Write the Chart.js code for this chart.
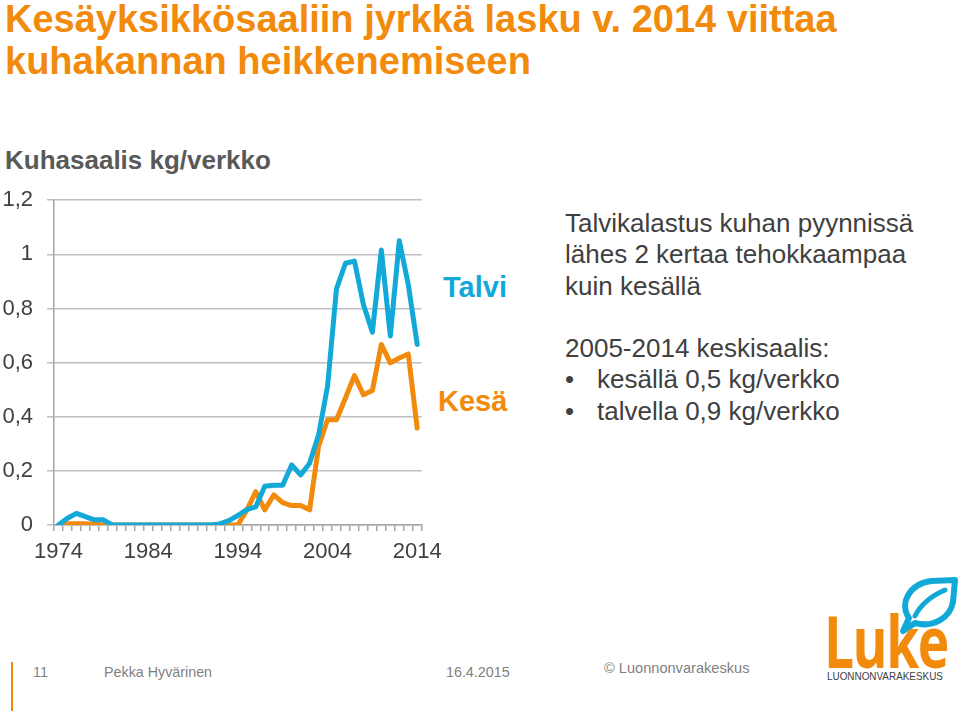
<!DOCTYPE html>
<html>
<head>
<meta charset="utf-8">
<script src="https://cdn.jsdelivr.net/npm/chart.js@4"></script>
<style>
  html, body { margin:0; padding:0; background:#fff; width:960px; height:711px; overflow:hidden; font-family:"Liberation Sans", Arial, sans-serif; }
  .abs { position:absolute; white-space:nowrap; }
  #title { left:5px; top:-2px; color:#F28A0C; font-weight:bold; font-size:38px; line-height:42px; }
  #ytitle { left:5px; top:145px; color:#595959; font-weight:bold; font-size:26px; }
  #talvi { left:443px; top:271px; color:#12A9D8; font-weight:bold; font-size:29px; }
  #kesa { left:438px; top:385px; color:#F28A0C; font-weight:bold; font-size:29px; }
  #note { left:565px; top:208px; color:#404040; font-size:26px; line-height:31.3px; }
  .bul { display:inline-block; width:32px; }
  .foot { top:664px; color:#7f7f7f; font-size:14.3px; }
  #chartwrap { position:absolute; left:0; top:173px; width:450px; height:402px; }
</style>
</head>
<body>
<div id="title" class="abs">Kesäyksikkösaaliin jyrkkä lasku v. 2014 viittaa<br>kuhakannan heikkenemiseen</div>
<div id="ytitle" class="abs">Kuhasaalis kg/verkko</div>
<div id="talvi" class="abs">Talvi</div>
<div id="kesa" class="abs">Kesä</div>
<div id="note" class="abs">Talvikalastus kuhan pyynnissä<br>lähes 2 kertaa tehokkaampaa<br>kuin kesällä<br><br>2005-2014 keskisaalis:<br><span class="bul">•</span>kesällä 0,5 kg/verkko<br><span class="bul">•</span>talvella 0,9 kg/verkko</div>
<div id="chartwrap"><canvas id="c"></canvas></div>

<div class="abs" style="left:11px;top:662px;width:2px;height:49px;background:#F28A0C;"></div>
<div class="abs foot" style="left:33px;">11</div>
<div class="abs foot" style="left:104px;">Pekka Hyvärinen</div>
<div class="abs foot" style="left:446px;">16.4.2015</div>
<div class="abs foot" style="left:604px;top:660px;font-size:14.6px;">© Luonnonvarakeskus</div>

<svg class="abs" style="left:895px;top:576px;" width="65" height="60" viewBox="0 0 65 60">
  <path d="M8 55 L14 42 C4 28 14 8 36 5 L60 4 L58 26 C55 42 38 52 20 47 Z" fill="none" stroke="#12A9D8" stroke-width="6" stroke-linejoin="round"/>
  <path d="M20 40 C26 28 36 20 50 14" fill="none" stroke="#12A9D8" stroke-width="5" stroke-linecap="round"/>
</svg>
<div class="abs" style="left:824px;top:600px;color:#F28A0C;font-family:'Open Sans',sans-serif;font-weight:bold;font-size:72px;line-height:80px;transform:scaleX(0.74);transform-origin:left top;letter-spacing:-2px;">Luke</div>
<div class="abs" style="left:827px;top:670px;color:#404040;font-family:'Liberation Sans',sans-serif;font-size:11px;transform:scaleX(0.9);transform-origin:left top;">LUONNONVARAKESKUS</div>

<script>
const years = [];
for (let y = 1974; y <= 2014; y++) years.push(String(y));

const talvi = [0, 0.025, 0.043, 0.031, 0.019, 0.019, 0, 0, 0, 0,
  0, 0, 0, 0, 0, 0, 0, 0, 0.004, 0.016,
  0.035, 0.057, 0.067, 0.143, 0.147, 0.147, 0.222, 0.185, 0.228, 0.333,
  0.512, 0.873, 0.967, 0.975, 0.815, 0.712, 1.016, 0.698, 1.05, 0.889,
  0.667];

const kesa = [0, 0.005, 0.005, 0.005, 0.003, 0, 0, 0, 0, 0,
  0, 0, 0, 0, 0, 0, 0, 0, 0, 0,
  0, 0.055, 0.123, 0.056, 0.111, 0.083, 0.072, 0.072, 0.056, 0.29,
  0.389, 0.389, 0.469, 0.552, 0.481, 0.497, 0.667, 0.599, 0.617, 0.632,
  0.358];

const yTicks = [0, 0.2, 0.4, 0.6, 0.8, 1, 1.2];
const labelYears = ['1974', '1984', '1994', '2004', '2014'];

new Chart(document.getElementById('c'), {
  type: 'line',
  data: {
    labels: years,
    datasets: [
      { label: 'Talvi', data: talvi, borderColor: '#12A9D8', borderWidth: 5, pointRadius: 0, tension: 0, borderJoinStyle: 'round', borderCapStyle: 'round' },
      { label: 'Kesä', data: kesa, borderColor: '#F28A0C', borderWidth: 5, pointRadius: 0, tension: 0, borderJoinStyle: 'round', borderCapStyle: 'round' }
    ]
  },
  options: {
    responsive: true,
    maintainAspectRatio: false,
    animation: false,
    layout: { padding: { top: 4, right: 26, left: 0, bottom: 0 } },
    plugins: { legend: { display: false }, tooltip: { enabled: false } },
    scales: {
      x: {
        offset: true,
        grid: { offset: true, drawOnChartArea: false, drawTicks: true, tickLength: 6, color: '#A6A6A6', lineWidth: 1.5 },
        border: { color: '#A6A6A6', width: 1.5 },
        ticks: {
          autoSkip: false, maxRotation: 0, minRotation: 0, padding: 8,
          color: '#404040', font: { family: 'Liberation Sans', size: 22 },
          callback: function(v, i) { const l = this.getLabelForValue(v); return labelYears.includes(l) ? l : ''; }
        },
        afterFit: s => { s.height = 50; }
      },
      y: {
        min: 0, max: 1.2,
        grid: { color: '#BFBFBF', lineWidth: 1.5, tickLength: 7, drawTicks: true },
        border: { color: '#A6A6A6', width: 1.5 },
        afterBuildTicks: s => { s.ticks = yTicks.map(v => ({ value: v })); },
        ticks: {
          padding: 14, color: '#404040', font: { family: 'Liberation Sans', size: 22 },
          callback: v => String(Math.round(v * 10) / 10).replace('.', ',')
        },
        afterFit: s => { s.width = 54; }
      }
    }
  }
});
</script>
</body>
</html>
